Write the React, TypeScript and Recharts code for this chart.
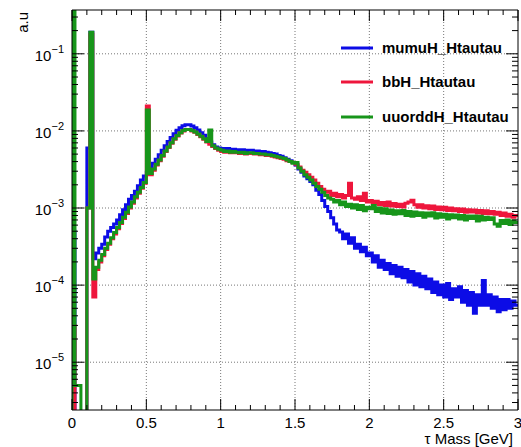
import { LineChart, Line, XAxis, YAxis, ReferenceLine } from "recharts";

// tau mass histograms, 0.02 GeV bins from 0 to 3 GeV (bin left edges)
const BIN_WIDTH = 0.02;
const EMPTY = 1e-7; // empty bins, drawn below the visible range

const mumuH = [
  5e-4, 1e-7, 1e-7, 1e-7, 1e-7, 6e-3, 0.19, 2.2e-4, 2.6e-4, 3.0e-4,
  3.4e-4, 4.2e-4, 5.0e-4, 5.6e-4, 6.2e-4, 7.0e-4, 8.2e-4, 9.5e-4, 1.1e-3, 1.3e-3,
  1.45e-3, 1.65e-3, 1.95e-3, 2.3e-3, 2.6e-3, 2.9e-3, 3.3e-3, 3.8e-3, 4.3e-3, 4.9e-3,
  5.6e-3, 6.4e-3, 7.3e-3, 8.2e-3, 9.2e-3, 1.02e-2, 1.1e-2, 1.17e-2, 1.2e-2, 1.2e-2,
  1.16e-2, 1.1e-2, 1.03e-2, 9.5e-3, 8.8e-3, 8.0e-3, 7.2e-3, 6.6e-3, 6.2e-3, 6.0e-3,
  5.9e-3, 5.8e-3, 5.9e-3, 5.7e-3, 5.8e-3, 5.7e-3, 5.6e-3, 5.7e-3, 5.5e-3, 5.6e-3,
  5.6e-3, 5.5e-3, 5.5e-3, 5.4e-3, 5.4e-3, 5.3e-3, 5.2e-3, 5.1e-3, 5.0e-3, 4.8e-3,
  4.7e-3, 4.5e-3, 4.3e-3, 4.1e-3, 3.9e-3, 3.6e-3, 3.2e-3, 2.9e-3, 2.6e-3, 2.4e-3,
  2.2e-3, 2.0e-3, 1.7e-3, 1.5e-3, 1.25e-3, 1.05e-3, 9.0e-4, 7.5e-4, 6.2e-4, 5.2e-4,
  4.9e-4, 4.0e-4, 4.6e-4, 3.5e-4, 4.1e-4, 3.0e-4, 3.4e-4, 2.7e-4, 3.1e-4, 2.4e-4,
  2.6e-4, 2.0e-4, 2.4e-4, 1.7e-4, 2.1e-4, 1.6e-4, 1.9e-4, 1.4e-4, 1.8e-4, 1.3e-4,
  1.7e-4, 1.25e-4, 1.6e-4, 1.1e-4, 1.5e-4, 1.0e-4, 1.4e-4, 9.5e-5, 1.3e-4, 9.0e-5,
  1.2e-4, 8.0e-5, 1.1e-4, 7.5e-5, 1.0e-4, 7.0e-5, 1.05e-4, 6.5e-5, 9.0e-5, 7.0e-5,
  9.5e-5, 6.0e-5, 8.5e-5, 5.5e-5, 8.0e-5, 4.3e-5, 7.5e-5, 5.5e-5, 1.15e-4, 5.5e-5,
  7.5e-5, 5.0e-5, 7.0e-5, 4.5e-5, 6.5e-5, 4.8e-5, 6.5e-5, 5.0e-5, 6.2e-5, 5.5e-5,
];

const bbH = [
  3e-5, 1e-7, 1e-7, 1e-7, 1e-7, 1e-3, 0.18, 7e-5, 1.6e-4, 2.0e-4,
  2.4e-4, 2.9e-4, 3.4e-4, 4.0e-4, 4.6e-4, 5.4e-4, 6.3e-4, 7.3e-4, 8.5e-4, 1.0e-3,
  1.15e-3, 1.35e-3, 1.55e-3, 1.8e-3, 2.1e-3, 2.1e-2, 2.7e-3, 3.1e-3, 3.6e-3, 4.1e-3,
  4.7e-3, 5.4e-3, 6.1e-3, 6.9e-3, 7.8e-3, 8.6e-3, 9.4e-3, 1.0e-2, 1.04e-2, 1.04e-2,
  1.0e-2, 9.6e-3, 9.0e-3, 8.4e-3, 7.8e-3, 7.2e-3, 6.7e-3, 6.3e-3, 5.9e-3, 5.6e-3,
  5.4e-3, 5.3e-3, 5.4e-3, 5.2e-3, 5.3e-3, 5.2e-3, 5.1e-3, 5.2e-3, 5.0e-3, 5.1e-3,
  5.1e-3, 5.0e-3, 5.0e-3, 4.9e-3, 4.9e-3, 4.8e-3, 4.8e-3, 4.7e-3, 4.6e-3, 4.5e-3,
  4.4e-3, 4.3e-3, 4.1e-3, 4.0e-3, 3.9e-3, 3.7e-3, 3.4e-3, 3.1e-3, 2.9e-3, 2.7e-3,
  2.5e-3, 2.3e-3, 2.1e-3, 1.9e-3, 1.75e-3, 1.6e-3, 1.65e-3, 1.45e-3, 1.55e-3, 1.4e-3,
  1.5e-3, 1.35e-3, 1.45e-3, 2.1e-3, 1.35e-3, 1.3e-3, 1.4e-3, 1.25e-3, 1.55e-3, 1.2e-3,
  1.25e-3, 1.15e-3, 1.22e-3, 1.1e-3, 1.18e-3, 1.08e-3, 1.2e-3, 1.06e-3, 1.14e-3, 1.05e-3,
  1.12e-3, 1.03e-3, 1.15e-3, 1.2e-3, 1.26e-3, 1.1e-3, 1.02e-3, 1.1e-3, 1.0e-3, 1.07e-3,
  9.8e-4, 1.06e-3, 9.6e-4, 1.03e-3, 9.5e-4, 1.02e-3, 9.3e-4, 1.0e-3, 9.2e-4, 9.8e-4,
  9.0e-4, 9.7e-4, 8.8e-4, 9.5e-4, 8.9e-4, 9.4e-4, 8.6e-4, 9.3e-4, 8.5e-4, 9.2e-4,
  8.4e-4, 9.0e-4, 8.3e-4, 8.8e-4, 8.0e-4, 8.6e-4, 7.8e-4, 8.3e-4, 7.6e-4, 8.0e-4,
];

const uuorddH = [
  1.0, 5e-6, 5e-6, 1e-7, 1e-7, 1e-3, 0.19, 1.2e-4, 1.7e-4, 2.1e-4,
  2.5e-4, 3.0e-4, 3.5e-4, 4.1e-4, 4.8e-4, 5.6e-4, 6.5e-4, 7.6e-4, 8.8e-4, 1.03e-3,
  1.2e-3, 1.4e-3, 1.6e-3, 1.85e-3, 2.15e-3, 1.87e-2, 2.8e-3, 3.2e-3, 3.7e-3, 4.2e-3,
  4.8e-3, 5.5e-3, 6.2e-3, 7.0e-3, 7.9e-3, 8.7e-3, 9.5e-3, 1.01e-2, 1.04e-2, 1.04e-2,
  1.01e-2, 9.7e-3, 9.1e-3, 8.5e-3, 7.9e-3, 7.3e-3, 1.03e-2, 6.4e-3, 6.0e-3, 5.8e-3,
  5.6e-3, 5.4e-3, 5.5e-3, 5.3e-3, 5.4e-3, 5.3e-3, 5.2e-3, 5.3e-3, 5.1e-3, 5.2e-3,
  5.2e-3, 5.1e-3, 5.1e-3, 5.0e-3, 5.0e-3, 4.9e-3, 4.9e-3, 4.8e-3, 4.7e-3, 4.6e-3,
  4.5e-3, 4.4e-3, 4.2e-3, 4.0e-3, 3.8e-3, 3.9e-3, 3.3e-3, 3.0e-3, 2.7e-3, 2.5e-3,
  2.3e-3, 2.1e-3, 1.9e-3, 1.75e-3, 1.6e-3, 1.45e-3, 1.35e-3, 1.3e-3, 1.2e-3, 1.25e-3,
  1.1e-3, 1.2e-3, 1.05e-3, 1.12e-3, 1.0e-3, 1.1e-3, 9.6e-4, 1.08e-3, 9.2e-4, 1.02e-3,
  9.8e-4, 1.08e-3, 9.0e-4, 1.0e-3, 8.6e-4, 9.8e-4, 8.5e-4, 9.4e-4, 8.3e-4, 9.2e-4,
  8.4e-4, 9.3e-4, 8.0e-4, 9.0e-4, 7.8e-4, 8.9e-4, 8.0e-4, 8.7e-4, 7.6e-4, 8.6e-4,
  7.9e-4, 8.7e-4, 7.4e-4, 8.4e-4, 7.6e-4, 8.3e-4, 7.2e-4, 8.2e-4, 7.5e-4, 8.1e-4,
  7.2e-4, 8.0e-4, 7.0e-4, 7.9e-4, 7.3e-4, 7.9e-4, 6.8e-4, 7.8e-4, 7.0e-4, 7.6e-4,
  7.1e-4, 7.5e-4, 6.2e-4, 5.8e-4, 6.9e-4, 6.3e-4, 7.0e-4, 6.1e-4, 6.8e-4, 6.5e-4,
];

const series = [
  { key: "mumuH", name: "mumuH_Htautau", color: "#0c0ce6" },
  { key: "bbH", name: "bbH_Htautau", color: "#ee163c" },
  { key: "uuorddH", name: "uuorddH_Htautau", color: "#17951a" },
];

const xMajor = [0, 0.5, 1, 1.5, 2, 2.5, 3];
const yMajor = [1e-5, 1e-4, 1e-3, 1e-2, 1e-1];
const X_DOMAIN = [0, 3];
const Y_DOMAIN = [2.4e-6, 0.37];

// step histogram rows: an opening row at 0 so the left edge is drawn,
// one row per bin edge, and a closing row at 3 GeV
const data = [
  { m: 0, mumuH: EMPTY, bbH: EMPTY, uuorddH: EMPTY },
  ...mumuH.map((v, i) => ({
    m: +(i * BIN_WIDTH).toFixed(2),
    mumuH: v,
    bbH: bbH[i],
    uuorddH: uuorddH[i],
  })),
  {
    m: 3,
    mumuH: mumuH[mumuH.length - 1],
    bbH: bbH[bbH.length - 1],
    uuorddH: uuorddH[uuorddH.length - 1],
  },
];

// tick positions (minor ticks every 0.1 on x, 2..9 per decade on y)
const xTicks: number[] = [];
for (let i = 0; i <= 30; i++) xTicks.push(i / 10);
const yTicks: number[] = [];
for (let e = -6; e <= -1; e++) {
  for (let k = 1; k <= 9; k++) {
    const v = k * Math.pow(10, e);
    if (v >= Y_DOMAIN[0] && v <= Y_DOMAIN[1]) yTicks.push(v);
  }
}

const isXMajor = (v: number) => xMajor.some((t) => Math.abs(t - v) < 1e-6);
const isYMajor = (v: number) => yMajor.some((t) => Math.abs(t - v) / t < 1e-6);

const FONT = "'Liberation Sans', Arial, Helvetica, sans-serif";

function BottomTick(props: any) {
  const { x, y, payload } = props;
  const major = isXMajor(payload.value);
  return (
    <g>
      <line x1={x} y1={y} x2={x} y2={y - (major ? 11 : 5)} stroke="#000" />
      {major && (
        <text x={x} y={y + 18} textAnchor="middle" fontSize={15} fontFamily={FONT} fill="#000">
          {String(payload.value)}
        </text>
      )}
    </g>
  );
}

function TopTick(props: any) {
  const { x, y, payload } = props;
  const major = isXMajor(payload.value);
  return <line x1={x} y1={y} x2={x} y2={y + (major ? 11 : 5)} stroke="#000" />;
}

function LeftTick(props: any) {
  const { x, y, payload } = props;
  const major = isYMajor(payload.value);
  const exp = Math.round(Math.log10(payload.value));
  return (
    <g>
      <line x1={x} y1={y} x2={x + (major ? 12 : 6)} y2={y} stroke="#000" />
      {major && (
        <text x={x - 8} y={y + 7} textAnchor="end" fontSize={15} fontFamily={FONT} fill="#000">
          <tspan>10</tspan>
          <tspan dy={-8} fontSize={11}>{"\u2212" + Math.abs(exp)}</tspan>
        </text>
      )}
    </g>
  );
}

function RightTick(props: any) {
  const { x, y, payload } = props;
  const major = isYMajor(payload.value);
  return <line x1={x} y1={y} x2={x - (major ? 12 : 6)} y2={y} stroke="#000" />;
}

function HistLegend() {
  const rows = [48, 82, 117];
  return (
    <svg
      width={521}
      height={447}
      style={{ position: "absolute", left: 0, top: 0, pointerEvents: "none" }}
    >
      {series.map((s, i) => (
        <g key={s.key}>
          <line x1={341} x2={373} y1={rows[i]} y2={rows[i]} stroke={s.color} strokeWidth={3} />
          <text
            x={382}
            y={rows[i] + 5}
            fontSize={15}
            fontWeight="bold"
            fontFamily={FONT}
            fill="#000"
          >
            {s.name}
          </text>
        </g>
      ))}
    </svg>
  );
}

export default function App() {
  return (
    <div
      style={{
        position: "absolute",
        left: 0,
        top: 0,
        width: 521,
        height: 447,
        background: "#fff",
        fontFamily: FONT,
      }}
    >
      <LineChart
        width={521}
        height={447}
        data={data}
        margin={{ top: 0, right: 0, bottom: 0, left: 0 }}
      >
        <XAxis
          dataKey="m"
          type="number"
          domain={X_DOMAIN}
          allowDataOverflow
          ticks={xTicks}
          interval={0}
          tickSize={0}
          tickMargin={0}
          tickLine={false}
          height={37}
          axisLine={{ stroke: "#000" }}
          tick={<BottomTick />}
          label={{
            content: () => (
              <text x={513} y={444} textAnchor="end" fontSize={15} fontFamily={FONT} fill="#000">
                τ Mass [GeV]
              </text>
            ),
          }}
        />
        <XAxis
          xAxisId="top"
          orientation="top"
          dataKey="m"
          type="number"
          domain={X_DOMAIN}
          allowDataOverflow
          ticks={xTicks}
          interval={0}
          tickSize={0}
          tickMargin={0}
          tickLine={false}
          height={10}
          axisLine={{ stroke: "#000" }}
          tick={<TopTick />}
        />
        <YAxis
          scale="log"
          type="number"
          domain={Y_DOMAIN}
          allowDataOverflow
          ticks={yTicks}
          interval={0}
          tickSize={0}
          tickMargin={0}
          tickLine={false}
          width={72}
          axisLine={{ stroke: "#000" }}
          tick={<LeftTick />}
          label={{
            content: () => (
              <text
                x={28}
                y={12}
                transform="rotate(-90 28 12)"
                textAnchor="end"
                fontSize={15}
                fontFamily={FONT}
                fill="#000"
              >
                a.u
              </text>
            ),
          }}
        />
        <YAxis
          yAxisId="right"
          orientation="right"
          scale="log"
          type="number"
          domain={Y_DOMAIN}
          allowDataOverflow
          ticks={yTicks}
          interval={0}
          tickSize={0}
          tickMargin={0}
          tickLine={false}
          width={3}
          axisLine={{ stroke: "#000" }}
          tick={<RightTick />}
        />
        {xMajor.slice(1, -1).map((v) => (
          <ReferenceLine key={"gx" + v} x={v} stroke="#777" strokeDasharray="1 2" />
        ))}
        {yMajor.map((v) => (
          <ReferenceLine key={"gy" + v} y={v} stroke="#777" strokeDasharray="1 2" />
        ))}
        {series.map((s) => (
          <Line
            key={s.key}
            dataKey={s.key}
            name={s.name}
            type="stepAfter"
            stroke={s.color}
            strokeWidth={3}
            dot={false}
            activeDot={false}
            isAnimationActive={false}
          />
        ))}
      </LineChart>
      <HistLegend />
    </div>
  );
}
